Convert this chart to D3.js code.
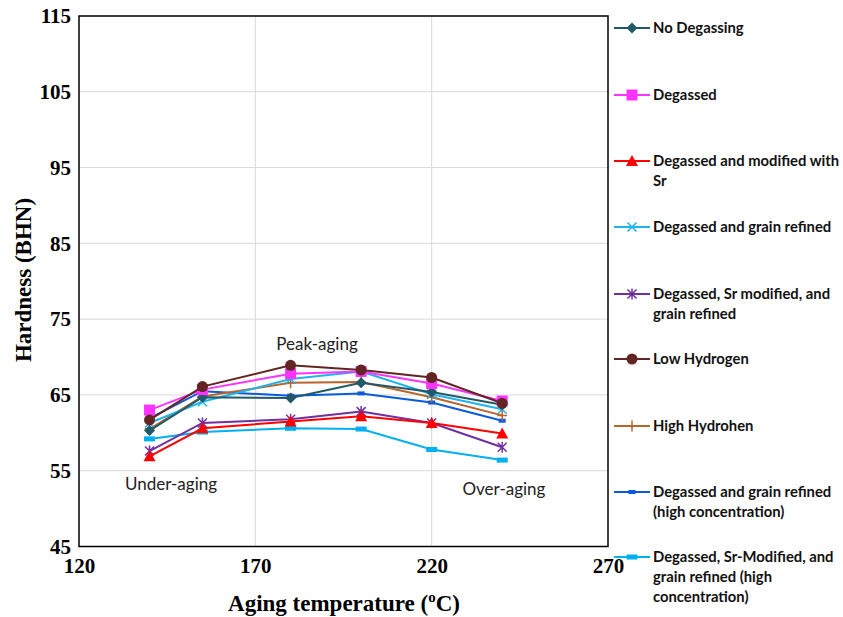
<!DOCTYPE html>
<html><head><meta charset="utf-8">
<script src="https://cdn.jsdelivr.net/npm/d3@7"></script>
<style>body{margin:0;background:#fff}</style>
</head><body>
<svg id="c" width="843" height="617"></svg>
<script>
const temps = [140, 155, 180, 200, 220, 240];
const noDegassing = [60.3, 64.7, 64.6, 66.6, 65.4, 63.7];
const degassed = [63.0, 65.7, 67.8, 68.1, 66.5, 64.2];
const degassedSr = [56.9, 60.6, 61.5, 62.2, 61.3, 59.9];
const degassedGR = [61.3, 64.1, 67.1, 68.1, 65.1, 63.1];
const degassedSrGR = [57.6, 61.3, 61.8, 62.8, 61.3, 58.1];
const lowHydrogen = [61.7, 66.1, 68.9, 68.3, 67.3, 63.9];
const highHydrogen = [60.5, 64.8, 66.6, 66.7, 64.7, 62.3];
const degassedGRHigh = [61.9, 65.5, 64.9, 65.2, 64.0, 61.6];
const degassedSrGRHigh = [59.2, 60.1, 60.6, 60.5, 57.8, 56.4];
const seriesNames = ["No Degassing", "Degassed", "Degassed and modified with Sr", "Degassed and grain refined",
  "Degassed, Sr modified, and grain refined", "Low Hydrogen", "High Hydrohen",
  "Degassed and grain refined (high  concentration)", "Degassed, Sr-Modified, and grain refined (high concentration)"];
const legendLines = [["No Degassing"], ["Degassed"], ["Degassed and modified with", "Sr"], ["Degassed and grain refined"],
  ["Degassed, Sr modified, and", "grain refined"], ["Low Hydrogen"], ["High Hydrohen"],
  ["Degassed and grain refined", "(high  concentration)"], ["Degassed, Sr-Modified, and", "grain refined (high", "concentration)"]];
const xTicks = [120, 170, 220, 270];
const yTicks = [45, 55, 65, 75, 85, 95, 105, 115];
const annotations = [{t:"Peak-aging", x:187.5, y:70.9}, {t:"Under-aging", x:146.1, y:52.5}, {t:"Over-aging", x:240.5, y:51.8}];

const styles = [
  {c:"#215968", m:"diamond"}, {c:"#FF33FF", m:"square"}, {c:"#FF0000", m:"triangle"},
  {c:"#1EB4F0", m:"x"}, {c:"#7030A0", m:"star"}, {c:"#632523", m:"circle"},
  {c:"#B8642C", m:"plus"}, {c:"#0A5ADC", m:"dash"}, {c:"#00B0F0", m:"bar"}
];
const allData = [noDegassing, degassed, degassedSr, degassedGR, degassedSrGR, lowHydrogen, highHydrogen, degassedGRHigh, degassedSrGRHigh];

const svg = d3.select("#c");
const L = 79, R = 608, T = 16, B = 546.5;
const x = d3.scaleLinear().domain([120, 270]).range([L, R]);
const y = d3.scaleLinear().domain([45, 115]).range([B, T]);

// grid
svg.append("g").selectAll("line").data(yTicks.slice(1, -1)).join("line")
  .attr("x1", L).attr("x2", R).attr("y1", d => y(d)).attr("y2", d => y(d))
  .attr("stroke", "#d9d9d9").attr("stroke-width", 1);
svg.append("g").selectAll("line").data(xTicks.slice(1, -1)).join("line")
  .attr("y1", T).attr("y2", B).attr("x1", d => x(d)).attr("x2", d => x(d))
  .attr("stroke", "#d9d9d9").attr("stroke-width", 1);

// frame
svg.append("rect").attr("x", L).attr("y", T).attr("width", R - L).attr("height", B - T)
  .attr("fill", "none").attr("stroke", "#000").attr("stroke-width", 1.5);

// axes with d3 axis (labels only)
const yAxis = svg.append("g").attr("transform", `translate(${L},0)`)
  .call(d3.axisLeft(y).tickValues(yTicks).tickSize(0).tickPadding(8));
yAxis.select(".domain").remove();
yAxis.selectAll("text").attr("font-family", "Liberation Serif, serif").attr("font-weight", "bold")
  .attr("font-size", 21).attr("fill", "#000");
const xAxis = svg.append("g").attr("transform", `translate(0,${B})`)
  .call(d3.axisBottom(x).tickValues(xTicks).tickSize(0).tickPadding(12));
xAxis.select(".domain").remove();
xAxis.selectAll("text").attr("font-family", "Liberation Serif, serif").attr("font-weight", "bold")
  .attr("font-size", 21).attr("fill", "#000");

// axis titles
const xt = svg.append("text").attr("x", 344).attr("y", 611).attr("text-anchor", "middle")
  .attr("font-family", "Liberation Serif, serif").attr("font-weight", "bold").attr("font-size", 23).attr("fill", "#000");
xt.append("tspan").text("Aging temperature (");
xt.append("tspan").text("o").attr("font-size", 15).attr("dy", -9);
xt.append("tspan").text("C)").attr("dy", 9);
svg.append("text").attr("transform", `translate(31,280) rotate(-90)`).attr("text-anchor", "middle")
  .attr("font-family", "Liberation Serif, serif").attr("font-weight", "bold").attr("font-size", 23).attr("fill", "#000")
  .text("Hardness (BHN)");

function drawMarker(g, m, c, cx, cy) {
  if (m === "diamond") g.append("path").attr("d", `M${cx},${cy-5.5}L${cx+5.5},${cy}L${cx},${cy+5.5}L${cx-5.5},${cy}Z`).attr("fill", c);
  else if (m === "square") g.append("rect").attr("x", cx-5.5).attr("y", cy-5.5).attr("width", 11).attr("height", 11).attr("fill", c);
  else if (m === "triangle") g.append("path").attr("d", `M${cx},${cy-6}L${cx+6},${cy+5}L${cx-6},${cy+5}Z`).attr("fill", c);
  else if (m === "x") g.append("path").attr("d", `M${cx-4.5},${cy-4.5}L${cx+4.5},${cy+4.5}M${cx-4.5},${cy+4.5}L${cx+4.5},${cy-4.5}`).attr("stroke", c).attr("stroke-width", 1.5);
  else if (m === "star") g.append("path").attr("d", `M${cx-4.5},${cy-4.5}L${cx+4.5},${cy+4.5}M${cx-4.5},${cy+4.5}L${cx+4.5},${cy-4.5}M${cx},${cy-5.5}L${cx},${cy+5.5}`).attr("stroke", c).attr("stroke-width", 1.5);
  else if (m === "circle") g.append("circle").attr("cx", cx).attr("cy", cy).attr("r", 5.5).attr("fill", c);
  else if (m === "plus") g.append("path").attr("d", `M${cx-5},${cy}L${cx+5},${cy}M${cx},${cy-5.5}L${cx},${cy+5.5}`).attr("stroke", c).attr("stroke-width", 1.5);
  else if (m === "dash") g.append("rect").attr("x", cx-3.5).attr("y", cy-2).attr("width", 7).attr("height", 4).attr("fill", c);
  else if (m === "bar") g.append("rect").attr("x", cx-5.5).attr("y", cy-2.5).attr("width", 11).attr("height", 5).attr("fill", c);
}

const line = d3.line().x((d, i) => x(temps[i])).y(d => y(d));
const order = [8, 7, 6, 4, 2, 3, 0, 1, 5];
order.forEach(si => {
  const g = svg.append("g");
  g.append("path").datum(allData[si]).attr("d", line).attr("fill", "none")
    .attr("stroke", styles[si].c).attr("stroke-width", 2);
  allData[si].forEach((v, i) => drawMarker(g, styles[si].m, styles[si].c, x(temps[i]), y(v)));
});

// annotations
svg.append("g").selectAll("text").data(annotations).join("text")
  .attr("x", d => x(d.x)).attr("y", d => y(d.y)).attr("text-anchor", "middle")
  .attr("font-family", "Lato, 'Open Sans', sans-serif").attr("font-size", 17).attr("fill", "#222")
  .text(d => d.t);

// legend
const legY = [28, 95, 161, 227, 294, 359, 426, 492, 557];
const lg = svg.append("g");
seriesNames.forEach((n, i) => {
  const cy = legY[i];
  lg.append("line").attr("x1", 614).attr("x2", 650).attr("y1", cy).attr("y2", cy)
    .attr("stroke", styles[i].c).attr("stroke-width", 2);
  drawMarker(lg, styles[i].m, styles[i].c, 632, cy);
  const t = lg.append("text").attr("x", 653).attr("y", cy + 5)
    .attr("font-family", "Lato, 'Open Sans', sans-serif").attr("font-weight", "bold").attr("font-size", 14.8).attr("fill", "#111");
  legendLines[i].forEach((s, k) => t.append("tspan").attr("x", 653).attr("dy", k === 0 ? 0 : 20).text(s));
});
</script>
</body></html>
